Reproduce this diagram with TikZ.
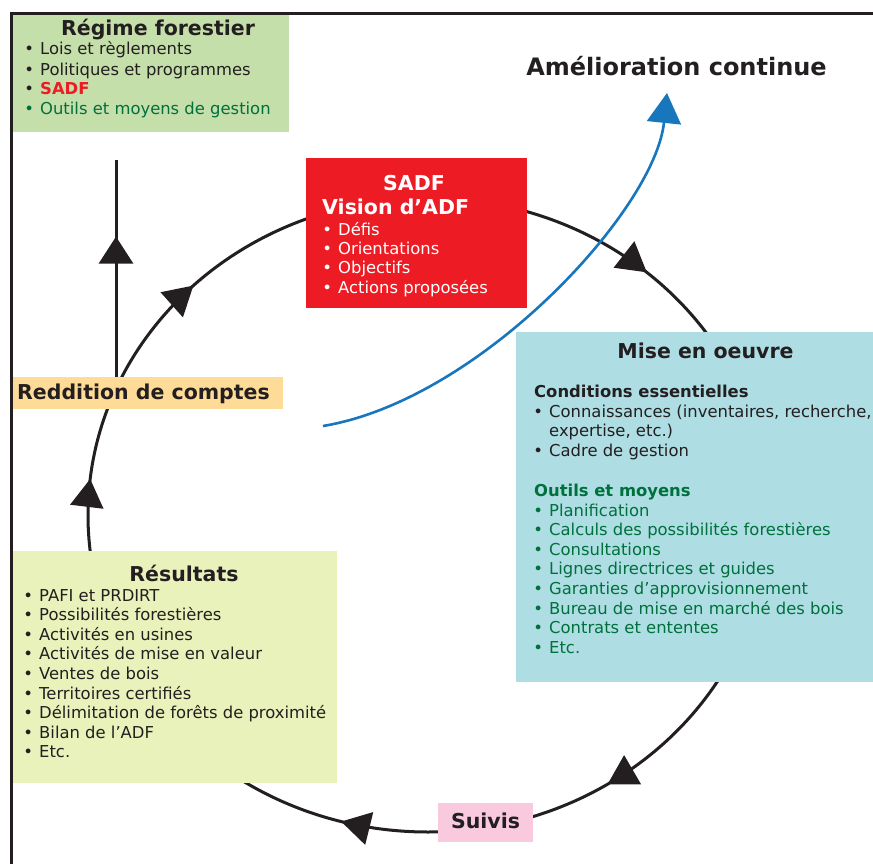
\documentclass[tikz,border=0pt]{standalone}
\usepackage{fontspec}
\setmainfont{DejaVu Sans}
\usetikzlibrary{arrows.meta,decorations.markings}
\definecolor{txt}{RGB}{35,31,32}
\definecolor{regG}{RGB}{197,223,171}
\definecolor{sadfR}{RGB}{237,28,36}
\definecolor{miseC}{RGB}{174,222,228}
\definecolor{resY}{RGB}{234,242,188}
\definecolor{redO}{RGB}{254,219,150}
\definecolor{suiP}{RGB}{249,202,222}
\definecolor{bluA}{RGB}{23,118,188}
\definecolor{grT}{RGB}{0,112,60}
\newcommand{\bodyf}{\fontsize{16.4}{19.7}\selectfont}
\newcommand{\headf}{\fontsize{20.5}{24}\selectfont\bfseries}
\newcommand{\subf}{\fontsize{16.4}{19.7}\selectfont\bfseries}
\newcommand{\bul}{\makebox[15.8pt][l]{•}}
\pgfdeclarelayer{bg}
\pgfsetlayers{bg,main}
\begin{document}
\begin{tikzpicture}[x=1pt,y=-1pt,
  panel/.style={anchor=north west, inner sep=0pt, outer sep=0pt, draw=none},
  itm/.style={anchor=base west, inner sep=0pt, font=\bodyf, text=txt},
  ttl/.style={anchor=base, inner sep=0pt, font=\headf, text=txt},
  cycline/.style={line width=3pt, draw=txt, fill=none}
]
\useasboundingbox (0,0) rectangle (873,864);

% panels
\node[panel, fill=regG, minimum width=277pt, minimum height=119pt] (regime) at (12,13) {};
\node[panel, fill=sadfR, minimum width=221pt, minimum height=150pt] (sadf) at (306,158) {};
\node[panel, fill=miseC, minimum width=375pt, minimum height=350pt] (mise) at (516,332) {};
\node[panel, fill=resY, minimum width=325pt, minimum height=232pt] (res) at (12,551) {};
\node[panel, fill=redO, minimum width=271pt, minimum height=32pt] (redd) at (12,377) {};
\node[panel, fill=suiP, minimum width=95pt, minimum height=39pt] (suivis) at (438,803) {};

% Regime forestier
\node[ttl] (regT) at (158,35.7) {Régime forestier};
\node[itm] (reg1) at (24.2,55) {\bul Lois et règlements};
\node[itm] (reg2) at (24.2,75.3) {\bul Politiques et programmes};
\node[itm] (reg3) at (24.2,95) {\bul\textcolor{sadfR}{\bfseries SADF}};
\node[itm, text=grT] (reg4) at (24.2,115) {\bul Outils et moyens de gestion};

% SADF
\node[ttl, text=white] (sadfT) at (414,190) {SADF};
\node[ttl, text=white, anchor=base west] (sadfV) at (322,214) {Vision d’ADF};
\foreach \t [count=\i] in {Défis, Orientations, Objectifs, Actions proposées}
  \node[itm, text=white] (sadf\i) at (322.2,235+19.4*\i-19.4) {\bul\t};

% Amelioration continue
\node[ttl, font=\fontsize{24}{28}\selectfont\bfseries] (amel) at (676.5,76) {Amélioration continue};

% Mise en oeuvre
\node[ttl] (miseT) at (705.5,358) {Mise en oeuvre};
\node[itm, font=\subf] (cond) at (534,397.7) {Conditions essentielles};
\node[itm] (c1) at (533.2,417) {\bul Connaissances (inventaires, recherche,};
\node[itm] (c1b) at (549,436.7) {expertise, etc.)};
\node[itm] (c2) at (533.2,456.5) {\bul Cadre de gestion};
\node[itm, font=\subf, text=grT] (outils) at (534,496.7) {Outils et moyens};
\foreach \t [count=\i] in {Planification, Calculs des possibilités forestières, Consultations, Lignes directrices et guides, Garanties d’approvisionnement, Bureau de mise en marché des bois, Contrats et ententes, Etc.}
  \node[itm, text=grT] (o\i) at (533.2,516+19.6*\i-19.6) {\bul\t};

% Resultats
\node[ttl] (resT) at (184,581.7) {Résultats};
\foreach \t [count=\i] in {PAFI et PRDIRT, Possibilités forestières, Activités en usines, Activités de mise en valeur, Ventes de bois, Territoires certifiés, Délimitation de forêts de proximité, Bilan de l’ADF, Etc.}
  \node[itm] (r\i) at (23.2,601+19.6*\i-19.6) {\bul\t};

% Reddition, Suivis
\node[ttl, anchor=base west] (reddT) at (17,399) {Reddition de comptes};
\node[ttl] (suivT) at (485.5,828.3) {Suivis};

% cycle and accountability line (behind panels)
\coordinate (ctop) at (428,198);
\coordinate (vt) at (116,160);
\begin{pgfonlayer}{bg}
\draw[cycline, postaction={decorate}, decoration={markings,
    mark=at position 0.114 with {\arrow{Triangle[length=29pt,width=33pt]}},
    mark=at position 0.409 with {\arrow{Triangle[length=29pt,width=33pt]}},
    mark=at position 0.5425 with {\arrow{Triangle[length=29pt,width=33pt]}},
    mark=at position 0.7675 with {\arrow{Triangle[length=28pt,width=33pt]}},
    mark=at position 0.876 with {\arrow{Triangle[length=29pt,width=33pt]}}}]
  (ctop) arc[start angle=90, end angle=-270, x radius=340pt, y radius=317pt];
\draw[cycline, postaction={decorate}, decoration={markings,
    mark=at position 0.647 with {\arrow{Triangle[length=27pt,width=34pt]}}}]
  (vt |- redd.north) -- (vt);
\end{pgfonlayer}

% continuous improvement arrow
\coordinate (bstart) at (323,426);
\coordinate (bend) at (667,93);
\draw[line width=2.6pt, draw=bluA, -{Triangle[length=30pt,width=34pt,fill=bluA]}]
  (bstart) .. controls (480,400) and (655,210) .. (bend);

% frame
\draw[line width=3.2pt, draw=txt] (11.5,864) -- (11.5,13.5) -- (873,13.5);
\end{tikzpicture}
\end{document}
